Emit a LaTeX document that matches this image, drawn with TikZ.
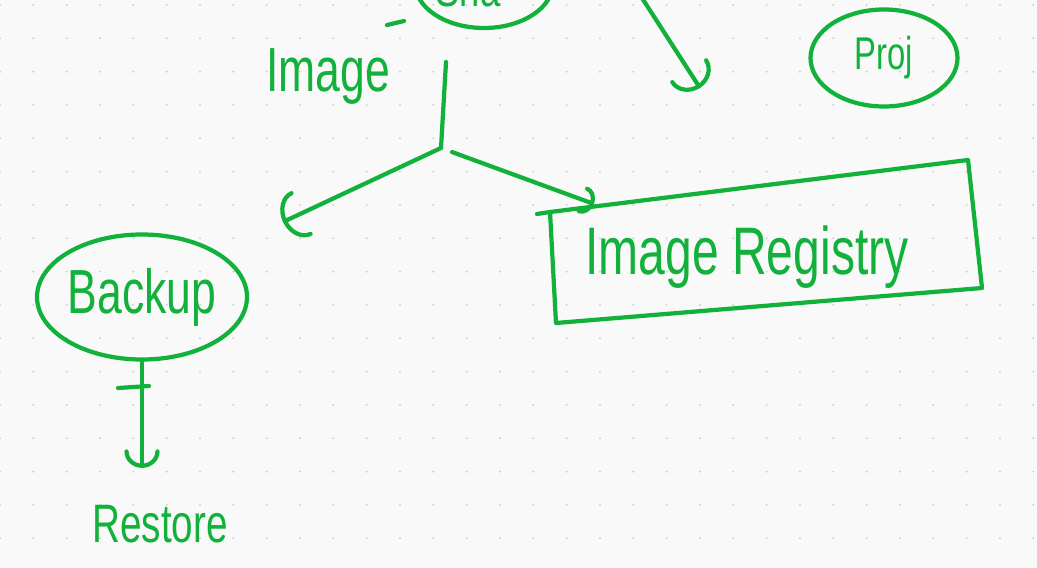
\documentclass[tikz,border=0pt]{standalone}
\usepackage{fontspec}
\usepackage{graphicx}
\setmainfont{Liberation Sans}
\usetikzlibrary{shapes.geometric,arrows.meta}
\definecolor{ink}{RGB}{17,177,59}
\definecolor{paper}{RGB}{249,249,249}
\definecolor{griddot}{RGB}{208,208,208}
\newcommand{\tallhand}[1]{\scalebox{1}[1.4]{#1}}

\begin{document}
\begin{tikzpicture}[x=0.03cm,y=-0.03cm,
  pen/.style={draw=ink, line width=3.6pt, line cap=round, line join=round},
  bubble/.style={pen, ellipse, inner sep=0pt, text=ink},
  scribble/.style={text=ink, inner sep=0pt},
  arr/.style n args={2}{pen, -{Arc Barb[length=#1, width=#2, round]}}]
% paper and dot grid
\useasboundingbox (0,0) rectangle (1037,568);
\fill[paper] (0,0) rectangle (1037,568);
\foreach \i in {0,...,31}
  \foreach \j in {0,...,16}
    \fill[griddot] (\i*33.33, 5+\j*33.33) circle (1.1);
\clip (0,0) rectangle (1037,568);

% bubbles
\node (share) [bubble, minimum width=4.14cm, minimum height=2.7cm] at (484,-17) {};
\node (sharetext) [scribble, font=\fontsize{31}{36}\selectfont, anchor=base] at (468,7) {\tallhand{Sha}};
\node (proj) [bubble, minimum width=4.41cm, minimum height=2.91cm, font=\fontsize{28}{32}\selectfont] at (884,58) {\tallhand{Proj}};
\node (backup) [bubble, minimum width=5.67cm, minimum height=3.75cm, font=\fontsize{38}{44}\selectfont] at (142,297) {\tallhand{Backup}};

% labels
\node (imagelabel) [scribble, font=\fontsize{38}{44}\selectfont, anchor=base] at (328,92) {\tallhand{Image}};
\node (restore) [scribble, font=\fontsize{33}{38}\selectfont, anchor=base] at (160,542) {\tallhand{Restore}};
\node (registry) [scribble, font=\fontsize{41}{48}\selectfont, anchor=base] at (747,274) {\tallhand{Image Registry}};

% registry box
\coordinate (regTL) at (550,212);
\coordinate (regTR) at (968,160);
\coordinate (regBR) at (982,288);
\coordinate (regBL) at (556,323);
\draw[pen] (537,214) -- (regTL) -- (regTR) -- (regBR) -- (regBL) -- (regTL);

% connectors
\coordinate (stemtop) at (446,62);
\coordinate (fork) at (441,148);
\coordinate (leftend) at (283,222);
\coordinate (regtop) at (594,204);
\coordinate (topstart) at (642,-2);
\coordinate (topend) at (700,88);
\draw[pen] (387,25) -- (404,21);
\draw[pen] (stemtop) -- (fork);
\draw[arr={17pt}{42pt}] (fork) -- (leftend);
\draw[arr={10pt}{24pt}, shorten <=10] (fork) -- (regtop);
\draw[arr={17pt}{38pt}] (topstart) -- (topend);
\draw[arr={14pt}{30pt}, shorten >=1.1cm] (backup.south) -- (backup.south |- restore.north);
\draw[pen] (118,388) -- (149,386);
\end{tikzpicture}
\end{document}
